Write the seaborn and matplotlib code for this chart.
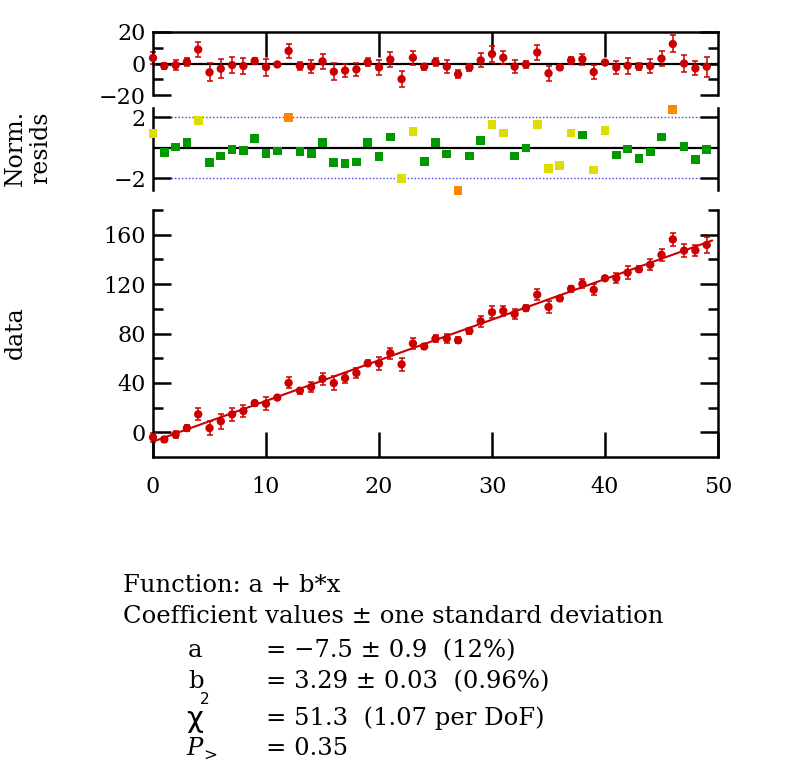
import numpy as np
import pandas as pd
import seaborn as sns
import matplotlib.pyplot as plt

# fit y = a + b*x with normalised residuals
x = list(range(50))
y = [-4.0, -5.8, -1.9, 3.4, 14.6, 3.4, 8.9, 14.5, 17.2, 23.7,
     23.1, 28.1, 40.0, 33.7, 36.6, 43.3, 39.9, 43.9, 48.0, 55.8,
     55.8, 64.1, 55.0, 71.9, 69.5, 75.8, 76.0, 74.5, 82.1, 89.9,
     97.2, 98.2, 95.8, 100.5, 111.4, 101.5, 108.4, 116.2, 120.2, 115.4,
     124.7, 124.9, 129.3, 132.0, 135.7, 143.7, 156.2, 147.1, 147.3, 151.7]
sigma = [3.5, 2.0, 3.0, 2.5, 4.7, 5.8, 6.0, 5.0, 5.0, 2.0,
         5.4, 1.2, 4.5, 2.5, 4.0, 4.6, 5.5, 4.0, 4.0, 2.5,
         5.0, 4.5, 5.0, 4.4, 2.0, 2.7, 4.0, 2.5, 2.5, 4.5,
         4.8, 4.0, 4.0, 2.4, 4.5, 4.6, 1.8, 2.3, 3.6, 4.4,
         1.0, 4.4, 5.0, 2.4, 4.6, 4.7, 5.4, 5.5, 4.4, 6.4]
resid = [3.5, -1.6, -1.0, 1.0, 8.9, -5.6, -3.3, -1.0, -1.6, 1.6,
         -2.3, -0.6, 8.0, -1.6, -2.0, 1.4, -5.2, -4.5, -3.7, 0.8,
         -2.5, 2.5, -9.9, 3.7, -2.0, 1.0, -2.0, -6.8, -2.5, 2.0,
         6.0, 3.7, -2.0, -0.6, 7.0, -6.2, -2.5, 2.0, 2.7, -5.4,
         0.6, -2.5, -1.4, -2.0, -1.6, 3.1, 12.4, 0.0, -3.1, -2.0]
norm_resid = [0.94, -0.31, 0.04, 0.35, 1.79, -0.96, -0.55, -0.11, -0.17, 0.61,
              -0.37, -0.22, 2.00, -0.24, -0.37, 0.35, -0.96, -1.03, -0.94, 0.35,
              -0.57, 0.70, -2.00, 1.07, -0.90, 0.35, -0.41, -2.79, -0.55, 0.48,
              1.53, 0.96, -0.55, -0.02, 1.53, -1.35, -1.16, 0.96, 0.83, -1.46,
              1.14, -0.48, -0.09, -0.70, -0.28, 0.70, 2.53, 0.09, -0.76, -0.11]
flag = ["warn", "ok", "ok", "ok", "warn", "ok", "ok", "ok", "ok", "ok",
        "ok", "ok", "bad", "ok", "ok", "ok", "ok", "ok", "ok", "ok",
        "ok", "ok", "warn", "warn", "ok", "ok", "ok", "bad", "ok", "ok",
        "warn", "warn", "ok", "ok", "warn", "warn", "warn", "warn", "ok", "warn",
        "warn", "ok", "ok", "ok", "ok", "ok", "bad", "ok", "ok", "ok"]
a_fit, b_fit = -7.5, 3.29

df = pd.DataFrame({"x": x, "y": y, "sigma": sigma, "resid": resid,
                   "norm": norm_resid, "flag": flag})

red = "#cc0000"
flag_colors = {"ok": "#009900", "warn": "#dddd00", "bad": "#ff8800"}

sns.set_style("ticks")
plt.rcParams["font.family"] = ["DejaVu Serif"]
plt.rcParams["axes.linewidth"] = 1.8
for k in ["text.color", "axes.edgecolor", "axes.labelcolor", "xtick.color", "ytick.color"]:
    plt.rcParams[k] = "black"

W, H = 790, 774
fig = plt.figure(figsize=(7.9, 7.74), dpi=100)

def px_axes(left, top, right, bottom):
    return fig.add_axes([left / W, 1 - bottom / H, (right - left) / W, (bottom - top) / H])

ax1 = px_axes(153, 32, 718, 95)
ax2 = px_axes(153, 108, 718, 190)
ax3 = px_axes(153, 210, 718, 457)

def style(ax):
    ax.tick_params(which="major", direction="in", length=13, width=1.8,
                   labelsize=16, left=True, right=True, pad=5)
    ax.tick_params(which="minor", direction="in", length=7, width=1.8,
                   left=True, right=True)
    ax.set_xlim(0, 50)
    ax.set_xlabel("")
    ax.set_ylabel("")

# --- residuals
ax1.axhline(0, color="black", lw=1.6, zorder=1)
ax1.errorbar(df["x"], df["resid"], yerr=df["sigma"], fmt="none", ecolor=red,
             elinewidth=1.3, capsize=2.5, capthick=1.3, alpha=0.85, clip_on=False)
sns.scatterplot(data=df, x="x", y="resid", color=red, s=36, edgecolor="none",
                ax=ax1, clip_on=False, zorder=3)
ax1.set_ylim(-20, 20)
ax1.set_yticks([-20, 0, 20])
ax1.set_yticks([-10, 10], minor=True)
ax1.set_xticks([10, 20, 30, 40])
style(ax1)
ax1.tick_params(axis="x", top=True, bottom=False, labelbottom=False, length=18)
ax1.spines["bottom"].set_visible(False)

# --- normalised residuals
ax2.axhline(0, color="black", lw=1.6, zorder=1)
ax2.hlines([-2, 2], 1.6, 48.4, colors="#4444ee", linestyles=(0, (1, 1.5)), lw=1)
sns.scatterplot(data=df, x="x", y="norm", hue="flag", palette=flag_colors,
                marker="s", s=40, edgecolor="none", legend=False, ax=ax2,
                clip_on=False, zorder=3)
ax2.set_ylim(-2.78, 2.61)
ax2.set_yticks([-2, 2])
style(ax2)
ax2.tick_params(axis="x", top=False, bottom=False, labelbottom=False)
ax2.spines["top"].set_visible(False)
ax2.spines["bottom"].set_visible(False)

# --- data and fit
xfit = np.linspace(0, 49.5, 100)
sns.lineplot(x=xfit, y=a_fit + b_fit * xfit, color=red, lw=1.5, ax=ax3)
ax3.errorbar(df["x"], df["y"], yerr=df["sigma"], fmt="none", ecolor=red,
             elinewidth=1.3, capsize=2.5, capthick=1.3, alpha=0.85, clip_on=False)
sns.scatterplot(data=df, x="x", y="y", color=red, s=36, edgecolor="none",
                ax=ax3, clip_on=False, zorder=3)
ax3.set_ylim(-20, 180)
ax3.set_yticks([0, 40, 80, 120, 160])
ax3.set_yticks([20, 60, 100, 140, 180], minor=True)
ax3.set_xticks([0, 10, 20, 30, 40, 50])
style(ax3)
ax3.tick_params(axis="x", which="major", length=18, pad=14)
ax3.spines["top"].set_visible(False)

fig.text(15 / W, 1 - 333 / H, "data", rotation=90, ha="center", va="center", fontsize=17)
fig.text(28 / W, 1 - 148 / H, "Norm.\nresids", rotation=90, ha="center", va="center",
         fontsize=17, multialignment="center", linespacing=1.1)

# --- fit summary
def t(px, py, s, **kw):
    fig.text(px / W, 1 - py / H, s, va="baseline", ha="left", **kw)

fs = 17.5
t(123, 592, "Function: a + b*x", fontsize=fs)
t(123, 623, "Coefficient values \u00b1 one standard deviation", fontsize=fs)
t(188, 657, "a", fontsize=fs)
t(266, 657, "= \u22127.5 \u00b1 0.9  (12%)", fontsize=fs)
t(188, 688, "b", fontsize=fs)
t(266, 688, "= 3.29 \u00b1 0.03  (0.96%)", fontsize=fs)
t(186, 727, "\u03c7", fontsize=21, family=["DejaVu Sans"])
t(200, 704, "2", fontsize=11, family=["DejaVu Sans"])
t(266, 725, "= 51.3  (1.07 per DoF)", fontsize=fs)
t(186, 755, "P", fontsize=fs, style="italic")
t(203, 761, ">", fontsize=12)
t(266, 755, "= 0.35", fontsize=fs)

fig.savefig("out.png", dpi=100)
